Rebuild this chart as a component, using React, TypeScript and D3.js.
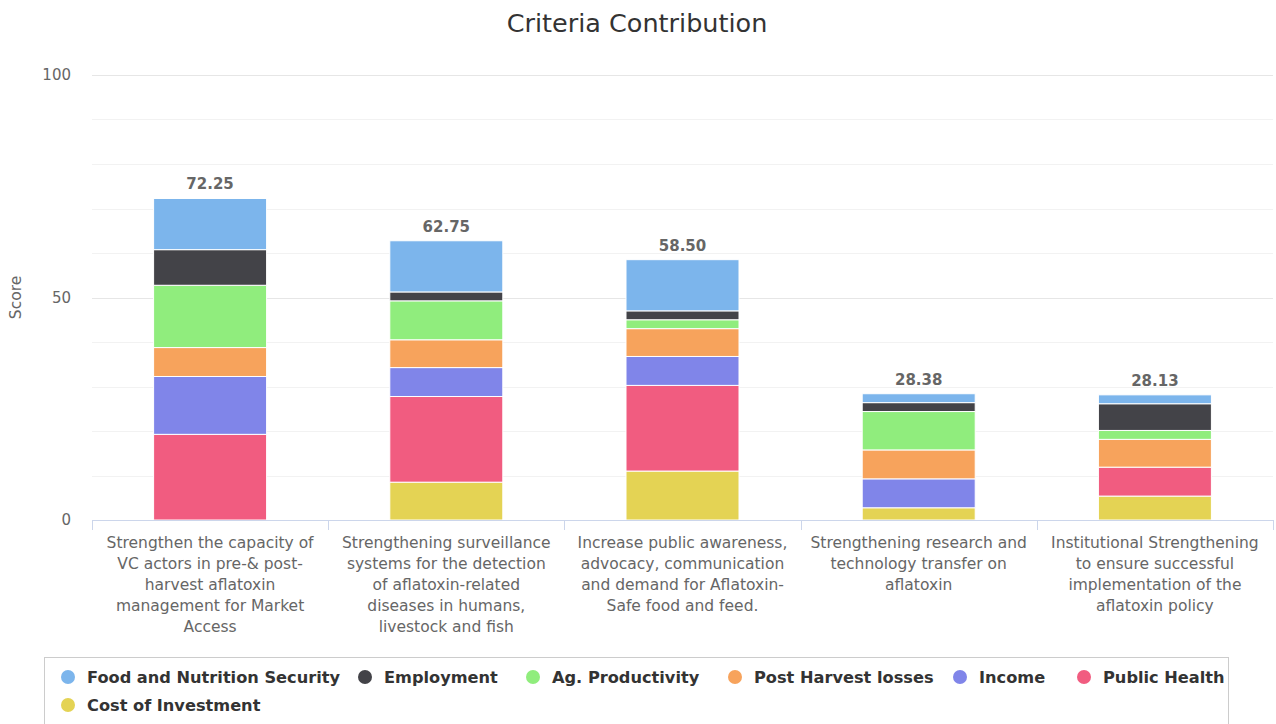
import React, { useEffect, useRef } from "react";
import * as d3 from "d3";

const W = 1276;
const H = 724;

const categories: string[][] = [
  ["Strengthen the capacity of", "VC actors in pre-& post-", "harvest aflatoxin", "management for Market", "Access"],
  ["Strengthening surveillance", "systems for the detection", "of aflatoxin-related", "diseases in humans,", "livestock and fish"],
  ["Increase public awareness,", "advocacy, communication", "and demand for Aflatoxin-", "Safe food and feed."],
  ["Strengthening research and", "technology transfer on", "aflatoxin"],
  ["Institutional Strengthening", "to ensure successful", "implementation of the", "aflatoxin policy"],
];

const seriesNames = [
  "Food and Nutrition Security",
  "Employment",
  "Ag. Productivity",
  "Post Harvest losses",
  "Income",
  "Public Health",
  "Cost of Investment",
];
const seriesColors = ["#7cb5ec", "#434348", "#90ed7d", "#f7a35c", "#8085e9", "#f15c80", "#e4d354"];

const foodNutrition = [11.5, 11.5, 11.5, 2, 2];
const employment = [8, 2, 2, 2, 6];
const agProductivity = [14, 8.75, 2, 8.625, 2];
const postHarvest = [6.5, 6.25, 6.25, 6.5, 6.25];
const income = [13, 6.5, 6.5, 6.5, 0];
const publicHealth = [19.25, 19.25, 19.25, 0, 6.5];
const costOfInvestment = [0, 8.5, 11, 2.75, 5.375];

const seriesValues = [foodNutrition, employment, agProductivity, postHarvest, income, publicHealth, costOfInvestment];

const yTicks = [0, 50, 100];
const yMinorTicks = [10, 20, 30, 40, 60, 70, 80, 90];

const FONT = "'DejaVu Sans', sans-serif";

export default function App() {
  const ref = useRef<SVGSVGElement>(null);

  useEffect(() => {
    const svg = d3.select(ref.current);
    svg.selectAll("*").remove();

    const left = 92, right = 1273, top = 75, bottom = 520;
    const x = d3.scaleBand<number>().domain(categories.map((_, i) => i)).range([left, right]).paddingInner(0).paddingOuter(0);
    const y = d3.scaleLinear().domain([0, 100]).range([bottom, top]);

    // title
    svg.append("text").attr("x", 637).attr("y", 32).attr("text-anchor", "middle")
      .style("font-family", FONT).style("font-size", "25.5px").attr("fill", "#333")
      .text("Criteria Contribution");

    // gridlines
    svg.append("g").selectAll("line").data(yMinorTicks).join("line")
      .attr("x1", left).attr("x2", right).attr("y1", d => Math.round(y(d)) + 0.5).attr("y2", d => Math.round(y(d)) + 0.5)
      .attr("stroke", "#f2f2f2").attr("stroke-width", 1);
    svg.append("g").selectAll("line").data(yTicks.filter(t => t !== 0)).join("line")
      .attr("x1", left).attr("x2", right).attr("y1", d => Math.round(y(d)) + 0.5).attr("y2", d => Math.round(y(d)) + 0.5)
      .attr("stroke", "#e6e6e6").attr("stroke-width", 1);

    // y tick labels
    svg.append("g").selectAll("text").data(yTicks).join("text")
      .attr("x", 71).attr("y", d => y(d) + 5).attr("text-anchor", "end")
      .style("font-family", FONT).style("font-size", "15px").attr("fill", "#666")
      .text(d => String(d));

    // y title
    svg.append("text").attr("transform", `translate(21,${y(50)}) rotate(-90)`).attr("text-anchor", "middle")
      .style("font-family", FONT).style("font-size", "15.5px").attr("fill", "#666").text("Score");

    // stacks
    const stackData = categories.map((_, i) => {
      const o: any = { i };
      seriesNames.forEach((n, s) => { o[n] = seriesValues[s][i]; });
      return o;
    });
    const stack = d3.stack<any>().keys(seriesNames.slice().reverse());
    const stacked = stack(stackData);
    const barW = 113;
    const g = svg.append("g");
    stacked.forEach(layer => {
      const si = seriesNames.indexOf(layer.key);
      g.append("g").selectAll("rect").data(layer.filter(d => d[1] - d[0] > 0)).join("rect")
        .attr("x", (d: any) => x(d.data.i)! + x.bandwidth() / 2 - barW / 2)
        .attr("width", barW)
        .attr("y", d => y(d[1]))
        .attr("height", d => y(d[0]) - y(d[1]))
        .attr("fill", seriesColors[si])
        .attr("stroke", "#fff").attr("stroke-width", 1);
    });

    // totals
    const totals = categories.map((_, i) => d3.sum(seriesValues, s => s[i]));
    svg.append("g").selectAll("text").data(totals).join("text")
      .attr("x", (_, i) => x(i)! + x.bandwidth() / 2).attr("y", d => y(d) - 9)
      .attr("text-anchor", "middle").style("font-family", FONT).style("font-size", "15px")
      .style("font-weight", "bold").attr("fill", "#666")
      .text(d => d.toFixed(2));

    // x axis
    svg.append("line").attr("x1", left).attr("x2", right).attr("y1", bottom + 0.5).attr("y2", bottom + 0.5)
      .attr("stroke", "#ccd6eb");
    const bounds = categories.map((_, i) => x(i)!).concat([right]);
    svg.append("g").selectAll("line").data(bounds).join("line")
      .attr("x1", d => Math.round(d) + 0.5).attr("x2", d => Math.round(d) + 0.5)
      .attr("y1", bottom).attr("y2", bottom + 10).attr("stroke", "#ccd6eb");

    // category labels
    categories.forEach((lines, i) => {
      const t = svg.append("text").attr("text-anchor", "middle")
        .style("font-family", FONT).style("font-size", "15.5px").attr("fill", "#666");
      lines.forEach((ln, k) => {
        t.append("tspan").attr("x", x(i)! + x.bandwidth() / 2).attr("y", 548 + k * 21).text(ln);
      });
    });

    // legend
    const lg = svg.append("g");
    lg.append("rect").attr("x", 44.5).attr("y", 657.5).attr("width", 1184).attr("height", 80)
      .attr("fill", "none").attr("stroke", "#ccc");
    const legendPos: [number, number][] = [[68, 677], [365, 677], [533, 677], [735, 677], [960, 677], [1084, 677], [68, 705]];
    seriesNames.forEach((n, s) => {
      const item = lg.append("g").attr("transform", `translate(${legendPos[s][0]},${legendPos[s][1]})`);
      item.append("circle").attr("r", 7).attr("fill", seriesColors[s]);
      item.append("text").attr("x", 19).attr("y", 6)
        .style("font-family", FONT).style("font-size", "16.2px").style("font-weight", "bold").attr("fill", "#333").text(n);
    });
  }, []);

  return (
    <svg ref={ref} width={W} height={H}
      style={{ position: "absolute", left: 0, top: 0, background: "#fff", display: "block" }} />
  );
}
